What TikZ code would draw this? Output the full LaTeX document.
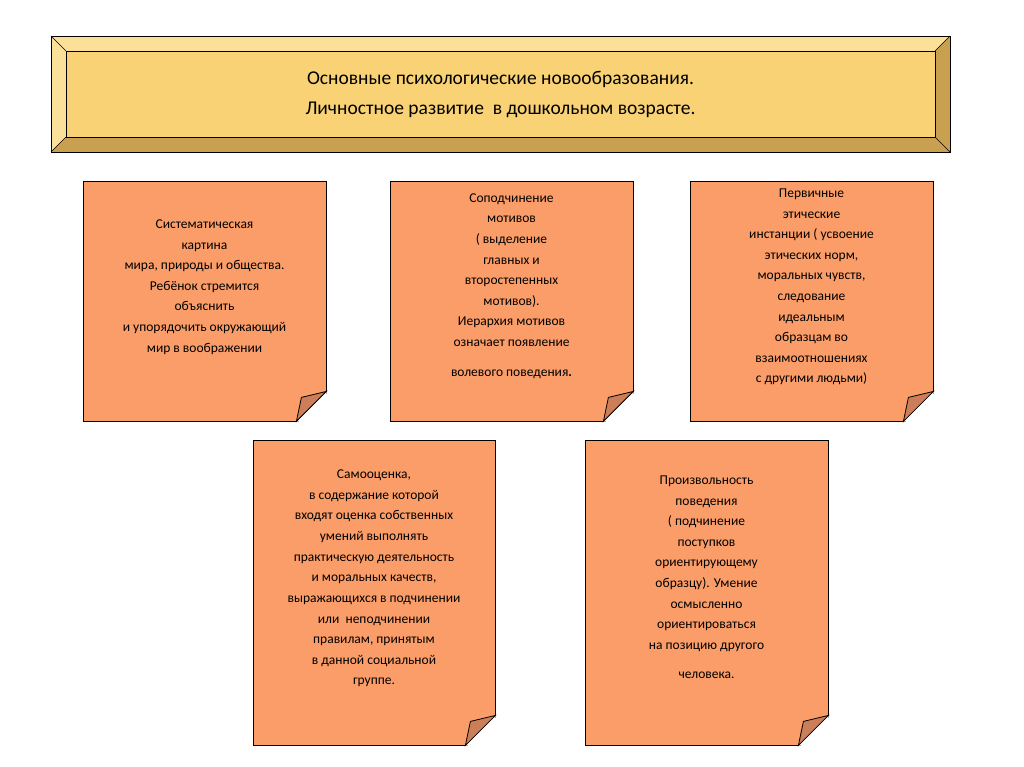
\documentclass[tikz,border=0pt]{standalone}
\usepackage{fontspec}
\setmainfont{Carlito}
\usetikzlibrary{calc}
\definecolor{notefill}{HTML}{FB9D68}
\definecolor{notefold}{HTML}{CB7E58}
\definecolor{barfill}{HTML}{F8D274}
\definecolor{barlight}{HTML}{FBE09A}
\definecolor{bardark}{HTML}{C9A050}
\tikzset{
  note/.style={draw,fill=notefill,thick,inner sep=0pt},
  notetext/.style={align=center,font=\fontsize{13.5}{20.6}\selectfont},
}
% folded corner at the bottom right of a note
\newcommand{\foldnote}[1]{
  \fill[white] ($(#1.south east)+(-30,0.1)$) -- ($(#1.south east)+(3,3)$) -- ($(#1.south east)+(0.1,-30)$) -- cycle;
  \draw[thick,fill=notefold] ($(#1.south east)+(-30,0)$) -- ($(#1.south east)+(-25,-24)$) -- ($(#1.south east)+(0,-30)$) -- cycle;
}
\begin{document}
\begin{tikzpicture}[x=1pt,y=-1pt]
\useasboundingbox (0,0) rectangle (1024,767);

%Title bar
\fill[barlight] (51,36) rectangle (950,152);
\fill[bardark] (51,152) -- (66,137) -- (935,137) -- (935,51) -- (950,36) -- (950,152) -- cycle;
\node[draw,fill=barfill,minimum width=869,minimum height=86,inner sep=0pt] (bar) at (500.5,94) {};
\draw[thick] (51,36) rectangle (950,152);
\draw (51,36) -- (bar.north west) (950,36) -- (bar.north east)
      (51,152) -- (bar.south west) (950,152) -- (bar.south east);
\node[align=center,font=\fontsize{19.5}{30}\selectfont] (title) at (bar.center)
  {Основные психологические новообразования.\\Личностное развитие \ в дошкольном возрасте.};

%Top row
\node[note,minimum width=243,minimum height=240] (n1) at (204.5,301) {};
\node[note,minimum width=243,minimum height=240] (n2) at (511.5,301) {};
\node[note,minimum width=243,minimum height=240] (n3) at (811.5,301) {};
%Bottom row
\node[note,minimum width=242,minimum height=305] (n4) at (374,592.5) {};
\node[note,minimum width=243,minimum height=305] (n5) at (706.5,592.5) {};

\foldnote{n1}
\foldnote{n2}
\foldnote{n3}
\foldnote{n4}
\foldnote{n5}

\node[notetext] (t1) at ($(n1.center)+(0,-14)$)
  {Систематическая\\картина\\мира, природы и общества.\\Ребёнок стремится\\объяснить\\и упорядочить окружающий\\мир в воображении};
\node[notetext] (t2) at ($(n2.center)+(0,-15)$)
  {Соподчинение\\мотивов\\( выделение\\главных и\\второстепенных\\мотивов).\\Иерархия мотивов\\означает появление\\[9pt]волевого поведения\textbf{.}};
\node[notetext] (t3) at ($(n3.center)+(0,-14)$)
  {Первичные\\этические\\инстанции ( усвоение\\этических норм,\\моральных чувств,\\следование\\идеальным\\образцам во\\взаимоотношениях\\с другими людьми)};
\node[notetext] (t4) at ($(n4.center)+(0,-14)$)
  {Самооценка,\\в содержание которой\\входят оценка собственных\\умений выполнять\\практическую деятельность\\и моральных качеств,\\выражающихся в подчинении\\или \ неподчинении\\правилам, принятым\\в данной социальной\\группе.};
\node[notetext] (t5) at ($(n5.center)+(0,-15)$)
  {Произвольность\\поведения\\( подчинение\\поступков\\ориентирующему\\образцу). Умение\\осмысленно\\ориентироваться\\на позицию другого\\[9pt]человека.};
\end{tikzpicture}
\end{document}
